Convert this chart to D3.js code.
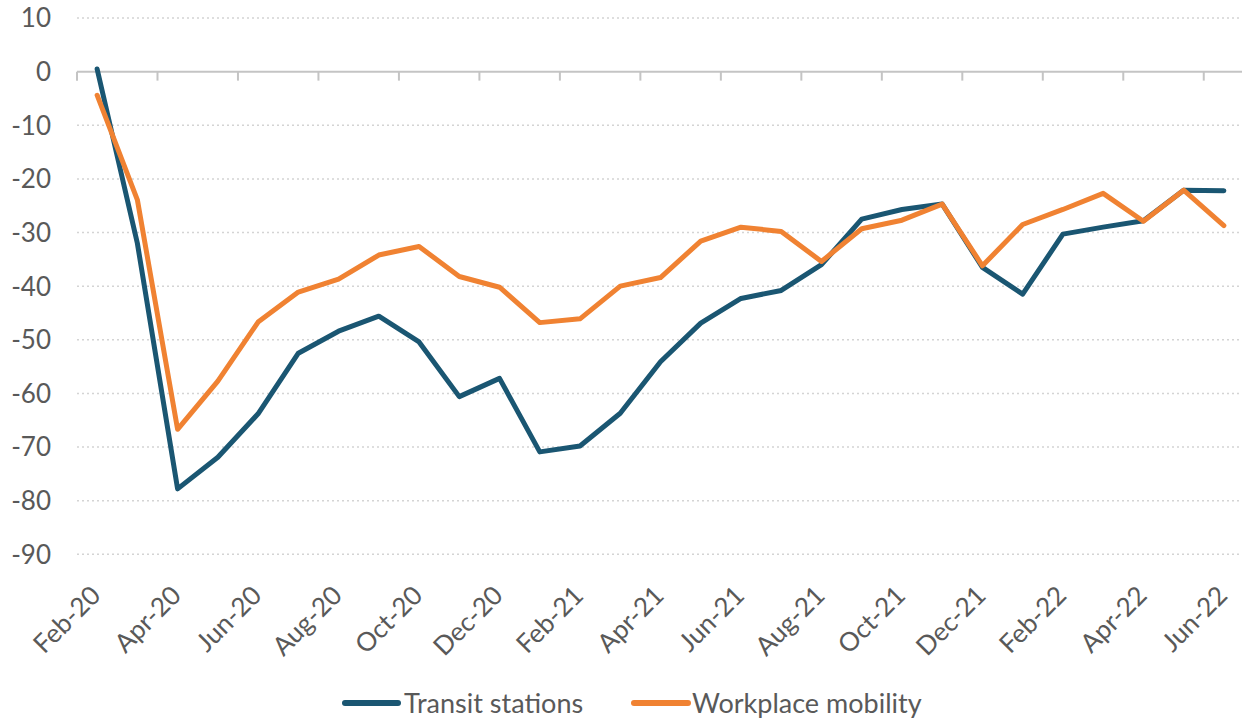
<!DOCTYPE html>
<html><head><meta charset="utf-8">
<script src="https://cdn.jsdelivr.net/npm/d3@7"></script>
<style>body{margin:0;background:#fff}svg{display:block}text{font-family:Lato,"Open Sans",sans-serif;fill:#595959}</style>
</head><body><svg id="c" width="1242" height="719"></svg>
<script>
const months = ["Feb-20","Mar-20","Apr-20","May-20","Jun-20","Jul-20","Aug-20","Sep-20","Oct-20","Nov-20","Dec-20","Jan-21","Feb-21","Mar-21","Apr-21","May-21","Jun-21","Jul-21","Aug-21","Sep-21","Oct-21","Nov-21","Dec-21","Jan-22","Feb-22","Mar-22","Apr-22","May-22","Jun-22"];
const transit = [0.5,-32,-77.8,-71.9,-63.8,-52.5,-48.4,-45.6,-50.4,-60.6,-57.2,-70.9,-69.8,-63.7,-54.1,-46.9,-42.3,-40.8,-36,-27.5,-25.7,-24.7,-36.5,-41.5,-30.3,-29.0,-27.8,-22.1,-22.2];
const workplace = [-4.4,-23.9,-66.7,-57.7,-46.7,-41.1,-38.7,-34.2,-32.6,-38.2,-40.2,-46.8,-46.1,-40.0,-38.4,-31.6,-29.0,-29.8,-35.4,-29.3,-27.7,-24.7,-36.2,-28.5,-25.7,-22.7,-27.9,-22.1,-28.7];
const yTicks = [10,0,-10,-20,-30,-40,-50,-60,-70,-80,-90];
const seriesNames = ["Transit stations","Workplace mobility"];
const colors = ["#1a5672","#f08232"];

(function(){
const svg = d3.select("#c");
const mLeft = 77, mRight = 1244, mTop = 18, mBottom = 554.3;
const x = d3.scaleBand().domain(months).range([mLeft, mRight]);
const y = d3.scaleLinear().domain([-90, 10]).range([mBottom, mTop]);

svg.append("g").selectAll("line").data(yTicks.filter(d => d !== 0)).join("line")
  .attr("x1", mLeft).attr("x2", 1242).attr("y1", d => y(d)).attr("y2", d => y(d))
  .attr("stroke", "#d4d4d4").attr("stroke-width", 1.5).attr("stroke-dasharray", "2,3");

svg.append("g").selectAll("text").data(yTicks).join("text")
  .attr("x", 51).attr("y", d => y(d)).attr("dy", "0.36em").attr("text-anchor", "end")
  .attr("font-size", 26).text(d => d);

const y0 = y(0);
svg.append("line").attr("x1", mLeft).attr("x2", 1242).attr("y1", y0).attr("y2", y0)
  .attr("stroke", "#c4c4c4").attr("stroke-width", 2);
const tickIdx = months.map((m, i) => i).filter(i => i % 2 === 0);
svg.append("g").selectAll("line").data(tickIdx).join("line")
  .attr("x1", i => x(months[i])).attr("x2", i => x(months[i]))
  .attr("y1", y0).attr("y2", y0 + 9).attr("stroke", "#c4c4c4").attr("stroke-width", 2);

svg.append("g").selectAll("text").data(tickIdx).join("text")
  .attr("text-anchor", "end").attr("font-size", 26)
  .attr("transform", i => `translate(${x(months[i]) + x.bandwidth()/2 + 5},${597}) rotate(-45)`)
  .text(i => months[i]);

const line = d3.line().x((d, i) => x(months[i]) + x.bandwidth()/2).y(d => y(d));
[transit, workplace].forEach((s, k) => {
  svg.append("path").datum(s).attr("d", line).attr("fill", "none")
    .attr("stroke", colors[k]).attr("stroke-width", 5).attr("stroke-linejoin", "round").attr("stroke-linecap", "round");
});

const leg = [{x1:345,x2:398,tx:404},{x1:634,x2:688,tx:692}];
leg.forEach((l, k) => {
  svg.append("line").attr("x1", l.x1).attr("x2", l.x2).attr("y1", 703).attr("y2", 703)
    .attr("stroke", colors[k]).attr("stroke-width", 6).attr("stroke-linecap", "round");
  svg.append("text").attr("x", l.tx).attr("y", 703).attr("dy", "0.36em").attr("font-size", 27).text(seriesNames[k]);
});
})();
</script></body></html>
